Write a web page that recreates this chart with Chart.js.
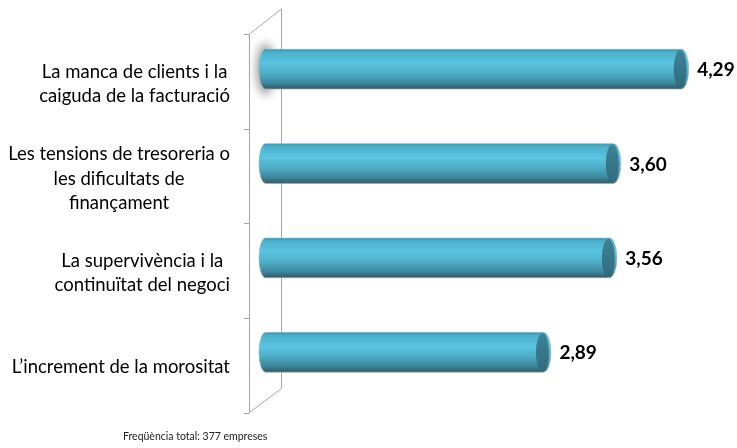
<!DOCTYPE html>
<html>
<head>
<meta charset="utf-8">
<script src="https://cdn.jsdelivr.net/npm/chart.js@4"></script>
<style>
  body { margin: 0; background: #fff; }
  #wrap { width: 737px; height: 448px; }
</style>
</head>
<body>
<div id="wrap"><canvas id="chart" width="737" height="448"></canvas></div>
<script>
// Categories (multi-line, as in the original chart)
const categories = [
  ["La manca de clients i la", "caiguda de la facturació"],
  ["Les tensions de tresoreria o", "les dificultats de", "finançament"],
  ["La supervivència i la", "continuïtat del negoci"],
  ["L’increment de la morositat"]
];
const values = [4.29, 3.60, 3.56, 2.89];
const valueLabels = ["4,29", "3,60", "3,56", "2,89"];
const footnote = "Freqüència total: 377 empreses";

const FONT = "Lato, 'Open Sans', sans-serif";

// draws the 3D wall, the cylinder bars, category and value labels
const cylinderPlugin = {
  id: 'cylinders',
  beforeDatasetsDraw(chart) {
    const ctx = chart.ctx;
    const a = chart.chartArea;
    const yScale = chart.scales.y;
    const fx = a.left - 10, bx = a.left + 22;
    const fTop = a.top + 12, bTop = a.top - 13;
    const fBot = a.bottom + 13, bBot = a.bottom - 11;

    ctx.save();
    ctx.strokeStyle = '#a6a6a6';
    ctx.lineWidth = 1;
    ctx.beginPath();
    ctx.moveTo(fx + 0.5, fTop); ctx.lineTo(fx + 0.5, fBot);
    ctx.moveTo(bx + 0.5, bTop); ctx.lineTo(bx + 0.5, bBot);
    ctx.moveTo(fx + 0.5, fTop); ctx.lineTo(bx + 0.5, bTop);
    ctx.moveTo(fx + 0.5, fBot); ctx.lineTo(bx + 0.5, bBot);
    for (let k = 0; k <= categories.length; k++) {
      const ty = Math.round(fTop + k * (fBot - fTop) / categories.length) + 0.5;
      ctx.moveTo(fx - 5, ty); ctx.lineTo(fx + 0.5, ty);
    }
    ctx.stroke();

    // category labels, block right-aligned, lines centred within the block
    ctx.fillStyle = '#000';
    ctx.font = "18.5px " + FONT;
    ctx.textBaseline = 'middle';
    ctx.textAlign = 'center';
    const lh = 24.5;
    categories.forEach((lines, i) => {
      const cy = yScale.getPixelForTick(i) + 15;
      const w = Math.max(...lines.map(l => ctx.measureText(l).width));
      const cx = fx - 19 - w / 2;
      lines.forEach((l, j) => {
        ctx.fillText(l, cx, cy + (j - (lines.length - 1) / 2) * lh);
      });
    });
    ctx.restore();
  },
  beforeDatasetDraw(chart) {
    const ctx = chart.ctx;
    const meta = chart.getDatasetMeta(0);
    ctx.save();
    meta.data.forEach((el, i) => {
      const { x, y, base, height } = el.getProps(['x', 'y', 'base', 'height'], true);
      const rx = 6.5, ry = height / 2;
      const top = y - ry, bot = y + ry;
      const cx0 = base + rx;

      if (i === 0) {
        ctx.save();
        ctx.filter = 'blur(4px)';
        ctx.fillStyle = 'rgba(90,90,90,0.55)';
        ctx.beginPath();
        ctx.ellipse(cx0, y, rx + 3, ry + 6, 0, 0, Math.PI * 2);
        ctx.fill();
        ctx.restore();
      }

      const g = ctx.createLinearGradient(0, top, 0, bot);
      g.addColorStop(0, '#3f8ea3');
      g.addColorStop(0.07, '#4cb0cb');
      g.addColorStop(0.35, '#5ac4e1');
      g.addColorStop(0.6, '#4eaec8');
      g.addColorStop(0.85, '#3b879c');
      g.addColorStop(1, '#2a5a68');

      ctx.beginPath();
      ctx.moveTo(cx0, top);
      ctx.lineTo(x, top);
      ctx.ellipse(x, y, rx + 1, ry, 0, -Math.PI / 2, Math.PI / 2);
      ctx.lineTo(cx0, bot);
      ctx.ellipse(cx0, y, rx, ry, 0, Math.PI / 2, Math.PI * 1.5);
      ctx.closePath();
      ctx.fillStyle = g;
      ctx.fill();
      ctx.strokeStyle = 'rgba(150,175,185,0.7)';
      ctx.lineWidth = 1;
      ctx.stroke();

      // end face
      const fg = ctx.createLinearGradient(0, top, 0, bot);
      fg.addColorStop(0, '#3f8398');
      fg.addColorStop(1, '#2f6a7b');
      ctx.beginPath();
      ctx.ellipse(x - 1, y, rx, ry - 1, 0, 0, Math.PI * 2);
      ctx.fillStyle = fg;
      ctx.fill();

      // value label
      ctx.fillStyle = '#000';
      ctx.font = "bold 19px " + FONT;
      ctx.textAlign = 'left';
      ctx.textBaseline = 'middle';
      ctx.fillText(valueLabels[i], x + 16, y + 1);
    });
    ctx.restore();
    return false;
  },
  afterDraw(chart) {
    const ctx = chart.ctx;
    ctx.save();
    ctx.fillStyle = '#222';
    ctx.font = "10.5px " + FONT;
    ctx.textAlign = 'left';
    ctx.textBaseline = 'middle';
    ctx.fillText(footnote, 123, 437);
    ctx.restore();
  }
};

new Chart(document.getElementById("chart"), {
  type: 'bar',
  data: {
    labels: categories,
    datasets: [{
      data: values,
      backgroundColor: '#4fb8d4',
      barPercentage: 0.42,
      categoryPercentage: 1
    }]
  },
  options: {
    indexAxis: 'y',
    responsive: false,
    animation: false,
    layout: { padding: { left: 259, right: 15.5, top: 22, bottom: 48.5 } },
    scales: {
      x: { display: false, min: 0, max: 4.7 },
      y: { display: false }
    },
    plugins: {
      legend: { display: false },
      tooltip: { enabled: false }
    }
  },
  plugins: [cylinderPlugin]
});
</script>
</body>
</html>
